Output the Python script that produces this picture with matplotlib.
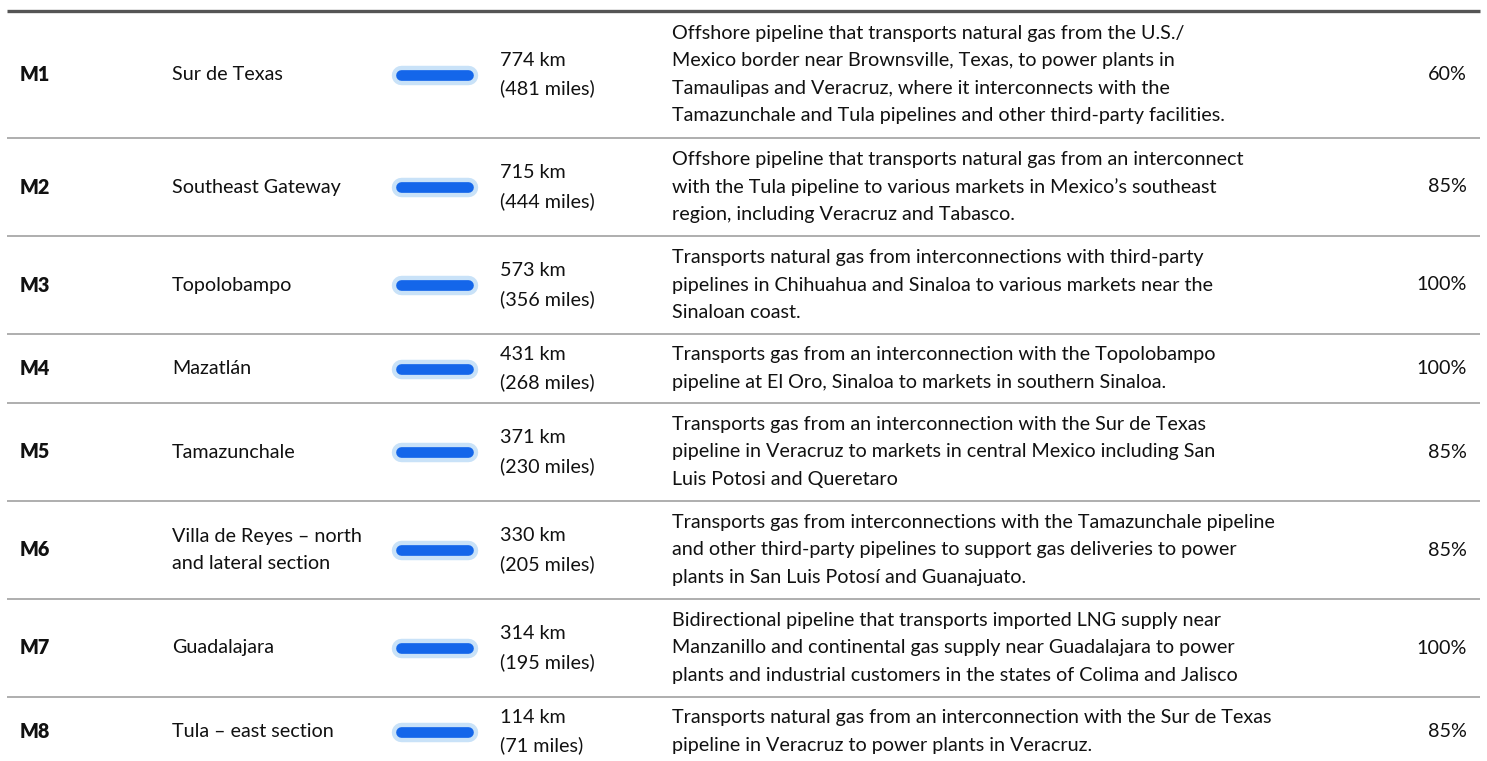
import matplotlib
matplotlib.use('Agg')
import matplotlib.pyplot as plt

plt.rcParams['font.family'] = ['Lato', 'DejaVu Sans']

# table data
ids = ['M1', 'M2', 'M3', 'M4', 'M5', 'M6', 'M7', 'M8']
names = [
    ['Sur de Texas'],
    ['Southeast Gateway'],
    ['Topolobampo'],
    ['Mazatlán'],
    ['Tamazunchale'],
    ['Villa de Reyes – north', 'and lateral section'],
    ['Guadalajara'],
    ['Tula – east section'],
]
km = [774, 715, 573, 431, 371, 330, 314, 114]
miles = [481, 444, 356, 268, 230, 205, 195, 71]
descriptions = [
    ['Offshore pipeline that transports natural gas from the U.S./',
     'Mexico border near Brownsville, Texas, to power plants in',
     'Tamaulipas and Veracruz, where it interconnects with the',
     'Tamazunchale and Tula pipelines and other third-party facilities.'],
    ['Offshore pipeline that transports natural gas from an interconnect',
     'with the Tula pipeline to various markets in Mexico’s southeast',
     'region, including Veracruz and Tabasco.'],
    ['Transports natural gas from interconnections with third-party',
     'pipelines in Chihuahua and Sinaloa to various markets near the',
     'Sinaloan coast.'],
    ['Transports gas from an interconnection with the Topolobampo',
     'pipeline at El Oro, Sinaloa to markets in southern Sinaloa.'],
    ['Transports gas from an interconnection with the Sur de Texas',
     'pipeline in Veracruz to markets in central Mexico including San',
     'Luis Potosi and Queretaro'],
    ['Transports gas from interconnections with the Tamazunchale pipeline',
     'and other third-party pipelines to support gas deliveries to power',
     'plants in San Luis Potosí and Guanajuato.'],
    ['Bidirectional pipeline that transports imported LNG supply near',
     'Manzanillo and continental gas supply near Guadalajara to power',
     'plants and industrial customers in the states of Colima and Jalisco'],
    ['Transports natural gas from an interconnection with the Sur de Texas',
     'pipeline in Veracruz to power plants in Veracruz.'],
]
ownership = ['60%', '85%', '100%', '100%', '85%', '85%', '100%', '85%']

W, H = 1487, 761
fig = plt.figure(figsize=(W / 100, H / 100), dpi=100)
ax = fig.add_axes([0, 0, 1, 1])
ax.set_xlim(0, W)
ax.set_ylim(H, 0)
ax.axis('off')

fs = 14.2
ls = 1.72
x_left, x_right = 7, 1480
top = 11
ax.plot([x_left, x_right], [top, top], color='#555555', lw=2.4, solid_capstyle='butt')

y = top
for i in range(len(ids)):
    n = max(len(descriptions[i]), len(names[i]), 2)
    h = 29 * n + 11
    yc = y + h / 2
    ax.text(20, yc, ids[i], fontsize=fs, fontweight='heavy', va='center', ha='left', color='#111111')
    ax.text(172, yc, '\n'.join(names[i]), fontsize=fs, va='center', ha='left',
            color='#111111', linespacing=ls)
    ax.plot([400.5, 467.5], [yc, yc], color='#c9e2f8', lw=14, solid_capstyle='round')
    ax.plot([400.5, 467.5], [yc, yc], color='#1466ea', lw=7.7, solid_capstyle='round')
    ax.text(500, yc, f'{km[i]} km\n({miles[i]} miles)', fontsize=fs, va='center',
            ha='left', color='#111111', linespacing=ls)
    ax.text(672, yc, '\n'.join(descriptions[i]), fontsize=fs, va='center', ha='left',
            color='#111111', linespacing=ls)
    ax.text(1467, yc, ownership[i], fontsize=fs, va='center', ha='right', color='#111111')
    y += h
    if i < len(ids) - 1:
        ax.plot([x_left, x_right], [y, y], color='#999999', lw=1.1, solid_capstyle='butt')

fig.savefig('out.png', dpi=100)
